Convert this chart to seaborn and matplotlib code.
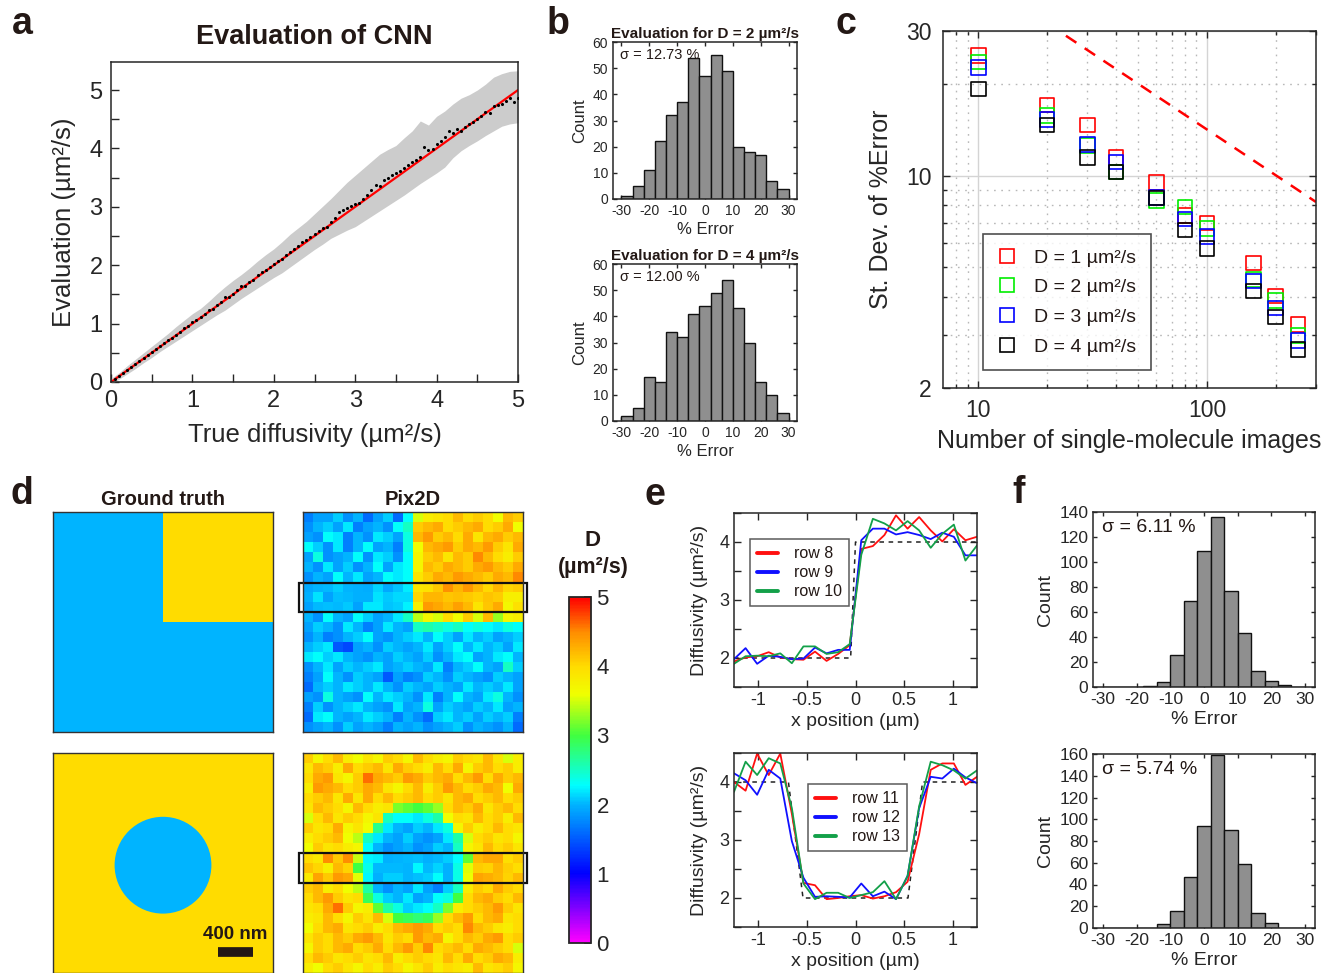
import numpy as np
import pandas as pd
import matplotlib
matplotlib.use("Agg")
import matplotlib.pyplot as plt
import seaborn as sns
from matplotlib.colors import LinearSegmentedColormap, Normalize
from matplotlib.cm import ScalarMappable
from matplotlib.lines import Line2D
from matplotlib.patches import Rectangle, Circle
from matplotlib.ticker import MultipleLocator, FixedLocator, FixedFormatter, NullFormatter

# ---------------- panel a: CNN evaluation ----------------
dot_true = np.linspace(0.05, 5.0, 100)
dot_eval = [0.05, 0.10, 0.16, 0.21, 0.26, 0.30, 0.36, 0.41, 0.46, 0.51,
            0.56, 0.61, 0.66, 0.72, 0.76, 0.81, 0.86, 0.92, 0.96, 1.02,
            1.06, 1.12, 1.16, 1.23, 1.25, 1.32, 1.37, 1.45, 1.46, 1.51,
            1.58, 1.64, 1.65, 1.72, 1.75, 1.83, 1.88, 1.92, 1.97, 2.02,
            2.08, 2.11, 2.17, 2.22, 2.27, 2.33, 2.40, 2.43, 2.48, 2.53,
            2.58, 2.63, 2.65, 2.74, 2.80, 2.91, 2.94, 2.98, 3.01, 3.04,
            3.07, 3.14, 3.21, 3.28, 3.37, 3.36, 3.46, 3.50, 3.55, 3.58,
            3.62, 3.67, 3.72, 3.77, 3.81, 3.86, 4.03, 3.97, 3.99, 4.07,
            4.12, 4.20, 4.29, 4.26, 4.33, 4.30, 4.37, 4.42, 4.46, 4.50,
            4.55, 4.62, 4.60, 4.73, 4.74, 4.76, 4.82, 4.87, 4.80, 4.87]
band_true = np.linspace(0, 5, 51)
band_hi = [0.06, 0.16, 0.28, 0.39, 0.50, 0.61, 0.72, 0.83, 0.95, 1.06,
           1.17, 1.26, 1.38, 1.51, 1.63, 1.74, 1.84, 1.95, 2.07, 2.18,
           2.28, 2.40, 2.53, 2.64, 2.75, 2.88, 3.01, 3.14, 3.28, 3.42,
           3.54, 3.66, 3.78, 3.90, 3.98, 4.05, 4.18, 4.30, 4.47, 4.40,
           4.55, 4.64, 4.76, 4.86, 4.92, 5.00, 5.10, 5.22, 5.28, 5.32, 5.33]
band_lo = [-0.04, 0.05, 0.14, 0.23, 0.33, 0.42, 0.52, 0.61, 0.70, 0.79,
           0.88, 0.97, 1.06, 1.15, 1.23, 1.33, 1.43, 1.52, 1.61, 1.70,
           1.79, 1.87, 1.97, 2.07, 2.17, 2.27, 2.36, 2.46, 2.53, 2.60,
           2.66, 2.75, 2.84, 2.93, 3.02, 3.11, 3.20, 3.30, 3.40, 3.49,
           3.58, 3.68, 3.84, 3.96, 4.05, 4.13, 4.22, 4.30, 4.38, 4.42, 4.44]
ideal_x = [0, 5]
ideal_y = [0, 5]

# ---------------- histograms (b, f) ----------------
hist_edges = [-30, -26, -22, -18, -14, -10, -6, -2, 2, 6, 10, 14, 18, 22, 26, 30]
hist_centers = [-28, -24, -20, -16, -12, -8, -4, 0, 4, 8, 12, 16, 20, 24, 28]
b_counts_d2 = [1, 5, 11, 22, 32, 37, 54, 47, 55, 49, 20, 18, 17, 7, 4]
b_counts_d4 = [2, 5, 17, 15, 34, 32, 41, 44, 49, 54, 43, 30, 15, 10, 3]
f_counts_top = [0, 0, 0, 1, 4, 26, 69, 109, 136, 77, 43, 13, 5, 2, 0]
f_counts_bottom = [0, 0, 0, 0, 4, 16, 47, 94, 159, 90, 59, 14, 5, 0, 0]

# ---------------- panel c ----------------
n_images = [10, 20, 30, 40, 60, 80, 100, 160, 200, 250]
sd_d1 = [24.9, 17.1, 14.7, 11.5, 9.5, 7.4, 7.0, 5.16, 4.02, 3.24]
sd_d2 = [23.7, 15.8, 12.6, 10.3, 8.3, 7.9, 6.7, 4.56, 3.89, 2.98]
sd_d3 = [22.7, 15.3, 12.7, 11.1, 8.5, 7.2, 6.3, 4.50, 3.67, 2.87]
sd_d4 = [19.3, 14.7, 11.5, 10.3, 8.45, 6.62, 5.76, 4.17, 3.43, 2.68]
ref_n = [20, 300]
ref_sd = [31.8, 8.2]

# ---------------- panel e: line profiles ----------------
x_pos = np.linspace(-1.25, 1.25, 22)
row8 = [1.94, 2.01, 2.03, 2.10, 2.01, 1.98, 1.97, 2.11, 1.95, 2.07, 2.22,
        3.88, 3.93, 4.12, 4.46, 4.23, 4.43, 4.20, 4.01, 4.22, 4.03, 4.09]
row9 = [1.98, 2.17, 1.90, 2.04, 2.02, 1.98, 1.99, 2.18, 2.08, 2.14, 2.14,
        4.03, 4.23, 4.23, 4.13, 4.17, 4.12, 4.05, 4.16, 4.09, 3.77, 3.77]
row10 = [1.90, 2.03, 2.04, 2.03, 2.08, 1.91, 2.20, 2.20, 2.07, 2.10, 2.24,
         3.78, 4.40, 4.32, 4.20, 4.36, 4.20, 3.90, 4.14, 4.30, 3.68, 3.94]
row11 = [4.00, 3.85, 4.49, 4.12, 4.49, 3.45, 2.26, 2.22, 1.98, 2.00, 2.03,
         2.05, 1.99, 2.03, 2.10, 2.28, 3.10, 4.21, 4.32, 4.32, 3.95, 4.09]
row12 = [4.15, 4.03, 3.78, 4.21, 4.06, 2.98, 2.35, 2.02, 2.03, 2.02, 2.01,
         2.25, 2.03, 2.11, 1.98, 2.38, 3.55, 4.09, 4.06, 4.23, 4.08, 3.98]
row13 = [3.83, 4.35, 4.12, 4.41, 4.32, 3.55, 2.25, 1.98, 2.09, 2.09, 2.00,
         2.05, 2.10, 2.29, 1.98, 2.38, 3.58, 4.35, 4.29, 4.20, 4.06, 4.20]
gt_step_x = [-1.25, -0.05, 0.0, 1.25]
gt_step_y = [2, 2, 4, 4]
gt_disk_x = [-1.25, -0.69, -0.54, 0.54, 0.69, 1.25]
gt_disk_y = [4, 4, 2, 2, 4, 4]

# ---------------- panel d: maps ----------------
gt_corner = [[2, 4], [2, 2]]
gt_background = [[4]]
gt_disk_value = 2
disk_radius_um = 0.55
field_um = 2.5

pix_corner = [
    [1.7, 1.9, 1.9, 2.1, 1.8, 2.0, 1.6, 1.9, 2.1, 1.6, 2.3, 3.5, 3.8, 3.9, 4.0, 4.2, 4.0, 4.1, 4.0, 3.6, 4.2, 4.1],
    [1.8, 2.0, 2.1, 1.9, 2.2, 1.7, 1.9, 2.0, 1.8, 2.3, 2.5, 4.1, 4.2, 4.3, 4.0, 4.1, 4.2, 4.3, 4.0, 4.1, 4.3, 3.6],
    [1.9, 1.8, 2.3, 2.2, 1.7, 2.0, 1.8, 2.2, 2.1, 1.9, 2.4, 4.2, 4.4, 4.1, 4.2, 4.0, 4.3, 3.9, 4.2, 4.3, 4.1, 4.2],
    [2.3, 2.1, 1.8, 2.2, 1.7, 2.0, 2.3, 1.9, 2.0, 1.7, 2.4, 3.6, 4.2, 4.3, 4.4, 4.1, 4.3, 4.2, 4.4, 4.1, 3.9, 4.3],
    [1.9, 2.4, 1.8, 1.9, 2.0, 2.3, 1.8, 2.2, 2.1, 1.8, 2.3, 3.7, 4.1, 4.2, 3.9, 4.2, 4.1, 4.5, 4.2, 4.0, 3.8, 4.1],
    [2.0, 1.8, 2.2, 1.9, 2.1, 1.8, 2.0, 2.3, 1.9, 2.2, 2.3, 3.7, 4.2, 4.1, 4.3, 4.2, 4.1, 4.3, 4.4, 4.2, 4.1, 4.3],
    [1.8, 2.0, 1.9, 2.3, 2.0, 2.2, 1.9, 2.0, 2.3, 2.2, 2.3, 3.9, 4.1, 4.3, 4.2, 4.4, 4.3, 4.2, 4.1, 4.3, 4.2, 4.5],
    row8,
    row9,
    row10,
    [2.0, 1.8, 2.3, 2.0, 1.9, 2.3, 2.1, 1.9, 2.0, 2.2, 2.5, 3.4, 3.7, 3.5, 4.0, 3.6, 4.1, 3.5, 4.2, 3.3, 3.7, 3.8],
    [1.9, 2.1, 2.0, 1.8, 2.2, 2.0, 1.7, 1.9, 2.2, 2.0, 1.9, 2.5, 2.6, 2.5, 2.4, 2.5, 2.3, 2.4, 2.3, 2.2, 2.4, 2.3],
    [1.8, 2.0, 1.7, 1.8, 2.0, 2.1, 2.3, 1.9, 1.8, 2.0, 2.1, 2.2, 2.0, 2.3, 2.1, 1.9, 2.2, 2.0, 2.1, 1.9, 2.0, 2.1],
    [2.0, 2.1, 2.2, 1.5, 1.4, 1.9, 2.0, 1.8, 2.1, 2.0, 1.9, 2.0, 2.2, 1.9, 2.1, 2.3, 2.0, 2.2, 2.0, 2.1, 1.9, 2.2],
    [2.2, 2.3, 2.1, 2.2, 2.0, 1.9, 1.8, 2.0, 1.9, 2.1, 2.0, 1.9, 2.1, 1.8, 2.0, 2.2, 2.3, 1.9, 2.0, 2.2, 2.3, 2.0],
    [1.8, 2.0, 2.2, 1.9, 2.1, 2.0, 2.1, 2.2, 1.9, 2.0, 2.1, 2.0, 1.9, 2.2, 1.7, 2.0, 2.1, 2.3, 2.0, 1.9, 2.5, 2.1],
    [1.7, 1.9, 2.3, 2.0, 1.8, 2.1, 2.0, 1.9, 1.5, 1.9, 1.7, 1.8, 2.1, 2.0, 1.8, 2.1, 2.0, 1.9, 1.8, 2.1, 2.0, 1.9],
    [1.6, 2.0, 2.1, 2.0, 2.2, 2.1, 2.0, 2.2, 2.0, 1.8, 2.1, 2.0, 1.9, 2.1, 2.0, 1.9, 2.2, 2.0, 2.1, 2.0, 2.2, 1.9],
    [1.9, 1.8, 2.4, 2.0, 1.9, 1.8, 2.3, 2.0, 2.2, 2.1, 2.0, 1.8, 2.2, 1.7, 2.0, 2.3, 2.0, 1.9, 2.2, 2.4, 2.0, 1.8],
    [1.7, 2.1, 1.8, 2.0, 2.1, 2.2, 2.0, 1.9, 1.8, 2.2, 1.9, 2.0, 2.4, 1.9, 2.1, 2.0, 1.9, 2.1, 2.0, 2.2, 1.9, 2.0],
    [1.6, 2.2, 2.3, 2.0, 1.9, 2.0, 2.2, 2.1, 2.0, 1.7, 2.0, 1.8, 1.6, 2.1, 2.2, 2.0, 2.1, 1.9, 2.1, 2.0, 2.1, 1.7],
    [1.8, 1.9, 2.0, 1.8, 2.1, 1.9, 2.0, 1.9, 1.7, 2.0, 1.9, 2.0, 1.8, 1.9, 2.0, 2.1, 1.8, 2.0, 1.9, 1.8, 2.0, 1.6],
]
pix_disk = [
    [4.1, 3.7, 4.0, 4.2, 3.8, 3.6, 3.9, 3.7, 4.1, 4.0, 3.7, 4.2, 4.0, 3.8, 3.7, 4.1, 4.0, 3.9, 4.2, 3.9, 3.5, 3.8],
    [3.9, 4.2, 4.1, 3.8, 4.3, 4.0, 4.1, 4.2, 3.9, 4.3, 4.1, 4.0, 3.8, 4.2, 4.0, 4.3, 3.7, 4.1, 4.2, 4.0, 4.1, 3.8],
    [4.0, 4.3, 4.4, 3.9, 3.7, 4.1, 4.6, 4.3, 4.2, 4.1, 4.4, 4.3, 4.1, 4.2, 4.3, 4.0, 4.2, 4.4, 4.0, 4.3, 4.1, 4.2],
    [3.8, 4.4, 4.3, 4.2, 4.0, 4.1, 4.3, 4.2, 3.9, 3.7, 4.0, 4.2, 3.8, 4.1, 4.4, 4.2, 4.0, 4.1, 4.3, 4.2, 3.6, 4.3],
    [4.0, 4.1, 4.2, 3.9, 4.3, 3.9, 4.3, 4.0, 4.2, 4.0, 4.1, 4.2, 4.0, 4.1, 3.9, 4.2, 4.3, 4.0, 4.1, 4.2, 4.0, 4.1],
    [3.9, 4.2, 4.1, 4.0, 3.7, 4.2, 4.0, 3.8, 3.9, 3.2, 3.1, 3.0, 3.1, 3.3, 4.0, 4.2, 4.1, 4.3, 3.9, 4.1, 4.2, 4.0],
    [3.5, 4.0, 4.2, 3.9, 4.1, 4.0, 3.7, 3.9, 2.5, 2.3, 2.3, 2.2, 2.4, 2.6, 3.6, 4.0, 3.9, 4.2, 4.0, 4.1, 3.8, 4.2],
    [4.1, 3.9, 4.0, 4.3, 3.7, 3.9, 3.6, 2.7, 2.2, 2.0, 1.9, 2.1, 2.0, 2.2, 2.4, 3.7, 4.1, 3.8, 4.0, 4.2, 4.0, 3.9],
    [3.8, 4.0, 4.1, 4.2, 3.6, 3.4, 2.5, 2.2, 2.0, 1.9, 2.1, 1.9, 1.8, 1.9, 2.2, 2.6, 3.5, 4.0, 4.1, 3.9, 4.0, 3.7],
    [3.6, 4.1, 3.9, 4.0, 3.8, 3.7, 2.3, 2.0, 1.8, 1.9, 2.0, 1.8, 1.9, 2.1, 2.0, 2.5, 3.7, 3.9, 4.2, 4.0, 4.1, 3.9],
    row11,
    row12,
    row13,
    [4.1, 4.2, 3.8, 4.0, 3.6, 3.4, 2.6, 2.0, 1.8, 2.0, 1.9, 2.2, 1.9, 1.7, 2.1, 2.5, 3.8, 4.1, 4.0, 4.3, 4.1, 4.0],
    [4.0, 4.2, 4.4, 4.1, 3.9, 4.0, 2.9, 2.4, 2.1, 2.0, 2.2, 1.9, 2.0, 2.3, 2.4, 3.0, 4.0, 4.2, 4.3, 4.1, 4.0, 4.2],
    [3.9, 4.0, 4.3, 4.6, 4.1, 3.7, 3.8, 3.1, 2.6, 2.4, 2.1, 2.2, 2.3, 2.5, 3.2, 3.8, 4.0, 4.1, 4.2, 4.4, 4.1, 3.9],
    [3.8, 3.9, 4.2, 4.0, 3.7, 4.1, 3.9, 4.2, 3.5, 3.0, 2.9, 2.8, 2.9, 3.3, 4.0, 4.2, 4.4, 4.0, 4.2, 4.3, 3.9, 4.0],
    [3.6, 4.0, 4.2, 4.3, 3.9, 4.0, 4.1, 3.8, 4.0, 4.2, 4.3, 4.4, 4.3, 4.0, 4.1, 4.0, 4.5, 4.2, 4.1, 3.9, 3.8, 4.0],
    [3.9, 4.1, 4.0, 4.2, 4.1, 4.3, 4.4, 4.2, 3.9, 4.1, 4.0, 4.4, 4.2, 4.3, 3.7, 4.0, 4.2, 4.1, 4.3, 4.4, 4.0, 4.1],
    [3.7, 4.1, 4.0, 4.2, 4.3, 4.0, 4.1, 4.3, 4.0, 4.2, 4.4, 4.1, 4.5, 4.0, 4.1, 4.2, 4.0, 4.3, 4.2, 4.1, 4.0, 3.5],
    [4.0, 4.2, 4.1, 3.9, 4.0, 4.1, 3.9, 4.0, 4.2, 3.8, 4.0, 4.1, 4.0, 3.9, 4.2, 4.0, 4.3, 4.0, 4.1, 4.3, 4.2, 3.8],
    [3.8, 3.6, 4.0, 4.1, 3.9, 3.7, 4.0, 3.8, 4.1, 4.0, 3.7, 3.9, 4.1, 3.8, 4.0, 3.9, 3.8, 4.2, 3.9, 4.0, 4.1, 3.7],
]

# colour map of the D maps
cmap_nodes = [0, 1, 2, 2.28, 3, 3.6, 4, 4.5, 5]
cmap_colors = ['#ff00ff', '#0000ff', '#00b4ff', '#00ffff', '#40ff40',
               '#f0ff00', '#ffdc00', '#ff8c00', '#ff0000']

# ---------------- style ----------------
sns.set_theme(style="ticks")
plt.rcParams['font.family'] = ['Liberation Sans', 'DejaVu Sans']
plt.rcParams.update({
    'axes.unicode_minus': False,
    'axes.edgecolor': '#262626',
    'axes.linewidth': 1.1,
    'text.color': '#231815',
    'axes.labelcolor': '#262626',
    'xtick.color': '#262626',
    'ytick.color': '#262626',
    'xtick.direction': 'in',
    'ytick.direction': 'in',
})

W, H = 1325, 973
fig = plt.figure(figsize=(13.25, 9.73), dpi=100)


def box(x0, y0, x1, y1):
    return fig.add_axes([x0 / W, 1 - y1 / H, (x1 - x0) / W, (y1 - y0) / H])


def matlab_ticks(ax, size, allsides=True):
    ax.tick_params(which='both', direction='in', top=allsides, right=allsides,
                   labelsize=size, width=1.0)
    ax.tick_params(which='major', length=5)
    ax.tick_params(which='minor', length=3)


def panel_label(x, y, s):
    fig.text(x / W, 1 - y / H, s, fontsize=27, fontweight='bold',
             ha='center', va='center', color='#231815')


# ---------------- a ----------------
ax = box(111, 62, 518, 382)
ax.fill_between(band_true, band_lo, band_hi, color='#cccccc', lw=0)
sns.lineplot(x=ideal_x, y=ideal_y, color='#ff0000', lw=1.6, ax=ax)
sns.scatterplot(x=dot_true, y=dot_eval, color='black', s=5, marker='o',
                linewidth=0, ax=ax, zorder=3)
ax.set_xlim(0, 5)
ax.set_ylim(0, 5.48)
ax.xaxis.set_major_locator(MultipleLocator(1))
ax.xaxis.set_minor_locator(MultipleLocator(0.5))
ax.yaxis.set_major_locator(MultipleLocator(1))
ax.yaxis.set_minor_locator(MultipleLocator(0.5))
matlab_ticks(ax, 17, allsides=False)
ax.tick_params(which='both', length=6, pad=6)
ax.set_xlabel('True diffusivity (µm²/s)', fontsize=18.5, labelpad=8)
ax.set_ylabel('Evaluation (µm²/s)', fontsize=18.5, labelpad=10)
ax.set_title('Evaluation of CNN', fontsize=19.5, fontweight='bold', pad=13)
panel_label(22, 24, 'a')


# ---------------- b ----------------
def error_hist(ax, counts, ymax, ystep, sigma_txt, tick_size, label_size, sigma_size):
    df = pd.DataFrame({'err': hist_centers, 'count': counts})
    sns.histplot(data=df, x='err', weights='count', bins=hist_edges, color='#8f8f8f',
                 edgecolor='#111111', linewidth=1.0, alpha=1.0, ax=ax)
    ax.set_xlim(-33, 33)
    ax.set_ylim(0, ymax)
    ax.xaxis.set_major_locator(FixedLocator([-30, -20, -10, 0, 10, 20, 30]))
    ax.yaxis.set_major_locator(MultipleLocator(ystep))
    matlab_ticks(ax, tick_size)
    ax.tick_params(which='major', length=3)
    ax.set_xlabel('% Error', fontsize=label_size, labelpad=3)
    ax.set_ylabel('Count', fontsize=label_size, labelpad=4)
    ax.text(0.04, 0.96, sigma_txt, transform=ax.transAxes, ha='left', va='top',
            fontsize=sigma_size)


ax = box(613, 42, 797, 199)
error_hist(ax, b_counts_d2, 60, 10, 'σ = 12.73 %', 10, 12, 10.5)
ax.set_title('Evaluation for D = 2 µm²/s', fontsize=11, fontweight='bold', pad=3)
ax = box(613, 264, 797, 421)
error_hist(ax, b_counts_d4, 60, 10, 'σ = 12.00 %', 10, 12, 10.5)
ax.set_title('Evaluation for D = 4 µm²/s', fontsize=11, fontweight='bold', pad=3)
panel_label(558, 24, 'b')

# ---------------- c ----------------
ax = box(943, 31, 1316, 388)
ax.set_xscale('log')
ax.set_yscale('log')
sns.lineplot(x=ref_n, y=ref_sd, color='#ff0000', lw=1.8, linestyle=(0, (5, 4)), ax=ax)
c_series = [(sd_d1, '#ff0000', 'D = 1 µm²/s'), (sd_d2, '#00ee00', 'D = 2 µm²/s'),
            (sd_d3, '#0000ff', 'D = 3 µm²/s'), (sd_d4, '#000000', 'D = 4 µm²/s')]
handles = []
for sd, col, lab in c_series:
    sns.scatterplot(x=n_images, y=sd, marker='s', s=110, color=col, ax=ax, zorder=3)
    coll = ax.collections[-1]
    coll.set_facecolor('none')
    coll.set_edgecolor(col)
    coll.set_linewidth(1.2)
    handles.append(Line2D([], [], ls='none', marker='s', ms=10, mfc='none',
                          mec=col, mew=1.2, label=lab))
ax.set_xlim(7, 300)
ax.set_ylim(2, 30)
ax.xaxis.set_major_locator(FixedLocator([10, 100]))
ax.xaxis.set_major_formatter(FixedFormatter(['10', '100']))
ax.xaxis.set_minor_locator(FixedLocator([8, 9, 20, 30, 40, 50, 60, 70, 80, 90, 200, 300]))
ax.xaxis.set_minor_formatter(NullFormatter())
ax.yaxis.set_major_locator(FixedLocator([2, 10, 30]))
ax.yaxis.set_major_formatter(FixedFormatter(['2', '10', '30']))
ax.yaxis.set_minor_locator(FixedLocator([3, 4, 5, 6, 7, 8, 9, 20]))
ax.yaxis.set_minor_formatter(NullFormatter())
ax.grid(which='major', color='#d4d4d4', lw=1.0, ls='-')
ax.grid(which='minor', color='#b8b8b8', lw=1.0, ls=(0, (1.2, 4)))
ax.set_axisbelow(True)
matlab_ticks(ax, 16.5)
ax.tick_params(which='both', pad=8)
ax.set_xlabel('Number of single-molecule images', fontsize=18, labelpad=5)
ax.set_ylabel('St. Dev. of %Error', fontsize=18, labelpad=10)
leg = ax.legend(handles=handles, loc='lower left', bbox_to_anchor=(0.107, 0.05),
                fontsize=14, frameon=True, fancybox=False, edgecolor='#222222',
                handlelength=1.0, labelspacing=0.62, handletextpad=0.9,
                borderpad=0.75, borderaxespad=0)
leg.get_frame().set_linewidth(1.2)
panel_label(846, 24, 'c')

# ---------------- d ----------------
node_pos = [v / 5 for v in cmap_nodes]
cmap = LinearSegmentedColormap.from_list('pix2d', list(zip(node_pos, cmap_colors)))
norm = Normalize(0, 5)


def map_axes(ax):
    for sp in ax.spines.values():
        sp.set_visible(True)
        sp.set_color('#333333')
        sp.set_linewidth(1.0)
    ax.tick_params(left=False, bottom=False, top=False, right=False)


ax = box(53, 512, 273, 732)
sns.heatmap(gt_corner, cmap=cmap, vmin=0, vmax=5, cbar=False, ax=ax,
            xticklabels=False, yticklabels=False)
map_axes(ax)
ax.set_title('Ground truth', fontsize=14.5, fontweight='bold', pad=5)

ax = box(53, 753, 273, 973)
sns.heatmap(gt_background, cmap=cmap, vmin=0, vmax=5, cbar=False, ax=ax,
            xticklabels=False, yticklabels=False)
ax.add_patch(Circle((0.5, 0.51), disk_radius_um / field_um, color=cmap(norm(gt_disk_value)), lw=0))
ax.plot([0.75, 0.75 + 0.4 / field_um], [0.905, 0.905], color='#231815', lw=7,
        solid_capstyle='butt')
ax.text(0.83, 0.865, '400 nm', ha='center', va='bottom', fontsize=13.5,
        fontweight='bold', color='#231815')
map_axes(ax)

ax = box(303, 512, 523, 732)
sns.heatmap(pix_corner, cmap=cmap, vmin=0, vmax=5, cbar=False, ax=ax,
            xticklabels=False, yticklabels=False)
map_axes(ax)
ax.add_patch(Rectangle((-0.4, 7.05), 22.8, 2.9, fill=False, ec='#111111', lw=1.6, clip_on=False))
ax.set_title('Pix2D', fontsize=14.5, fontweight='bold', pad=5)

ax = box(303, 753, 523, 973)
sns.heatmap(pix_disk, cmap=cmap, vmin=0, vmax=5, cbar=False, ax=ax,
            xticklabels=False, yticklabels=False)
map_axes(ax)
ax.add_patch(Rectangle((-0.4, 10.0), 22.8, 3.0, fill=False, ec='#111111', lw=1.6, clip_on=False))

cax = box(569, 597, 591, 943)
cb = fig.colorbar(ScalarMappable(norm=norm, cmap=cmap), cax=cax, ticks=[0, 1, 2, 3, 4, 5])
cb.outline.set_linewidth(1.3)
cb.outline.set_edgecolor('#262626')
cax.tick_params(labelsize=16, direction='in', length=5, width=1.2, pad=4)
fig.text(593 / W, 1 - 540 / H, 'D', fontsize=16, fontweight='bold', ha='center', va='center')
fig.text(593 / W, 1 - 567 / H, '(µm²/s)', fontsize=15.5, fontweight='bold', ha='center', va='center')
panel_label(22, 494, 'd')


# ---------------- e ----------------
def profile_axes(ax, rows, labels, gt_x, gt_y, legend_anchor):
    sns.lineplot(x=gt_x, y=gt_y, color='#222222', lw=1.1, linestyle=(0, (3, 3)), ax=ax)
    line_cols = ['#ff1010', '#1010ff', '#13a049']
    hs = []
    for r, lab, col in zip(rows, labels, line_cols):
        sns.lineplot(x=x_pos, y=r, color=col, lw=1.3, ax=ax)
        hs.append(Line2D([], [], color=col, lw=2.8, label=lab))
    ax.set_xlim(-1.25, 1.25)
    ax.set_ylim(1.5, 4.5)
    ax.xaxis.set_major_locator(FixedLocator([-1, -0.5, 0, 0.5, 1]))
    ax.xaxis.set_major_formatter(FixedFormatter(['-1', '-0.5', '0', '0.5', '1']))
    ax.yaxis.set_major_locator(FixedLocator([2, 3, 4]))
    ax.yaxis.set_minor_locator(FixedLocator([1.5, 2.5, 3.5, 4.5]))
    matlab_ticks(ax, 13)
    ax.tick_params(which='minor', length=5)
    ax.set_xlabel('x position (µm)', fontsize=14, labelpad=3)
    ax.set_ylabel('Diffusivity (µm²/s)', fontsize=14, labelpad=8)
    lg = ax.legend(handles=hs, loc='upper left', bbox_to_anchor=legend_anchor,
                   fontsize=11.5, frameon=True, fancybox=False, edgecolor='#333333',
                   handlelength=1.3, handletextpad=1.0, labelspacing=0.25,
                   borderpad=0.45, borderaxespad=0)
    lg.get_frame().set_linewidth(1.1)


ax = box(734, 513, 977, 687)
profile_axes(ax, [row8, row9, row10], ['row 8', 'row 9', 'row 10'],
             gt_step_x, gt_step_y, (0.066, 0.85))
ax = box(734, 753, 977, 927)
profile_axes(ax, [row11, row12, row13], ['row 11', 'row 12', 'row 13'],
             gt_disk_x, gt_disk_y, (0.305, 0.822))
panel_label(655, 495, 'e')

# ---------------- f ----------------
ax = box(1093, 512, 1315, 687)
error_hist(ax, f_counts_top, 140, 20, 'σ = 6.11 %', 12.5, 14, 14)
ax = box(1093, 754, 1315, 928)
error_hist(ax, f_counts_bottom, 160, 20, 'σ = 5.74 %', 12.5, 14, 14)
panel_label(1019, 493, 'f')

fig.savefig('out.png', dpi=100)
